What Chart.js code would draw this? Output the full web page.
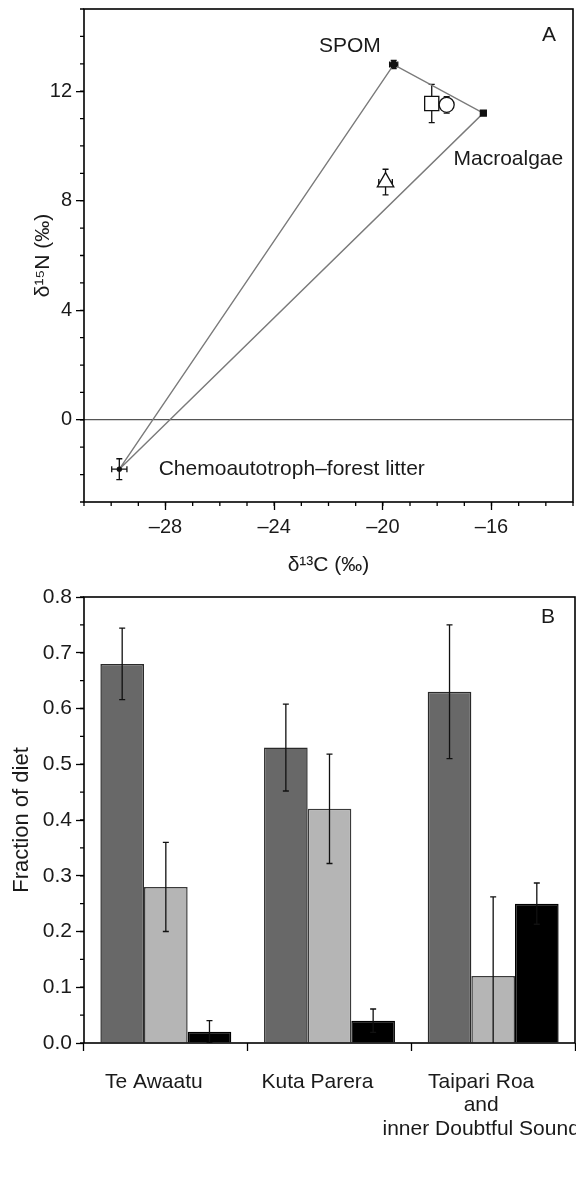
<!DOCTYPE html>
<html>
<head>
<meta charset="utf-8">
<script src="https://cdn.jsdelivr.net/npm/chart.js@4.4.1/dist/chart.umd.min.js"></script>
<style>
  html, body { margin: 0; padding: 0; background: #fff; overflow: hidden; }
  #wrapA { position: absolute; left: 0; top: 0; width: 576px; height: 580px; }
  #wrapB { position: absolute; left: 0; top: 580px; width: 576px; height: 601px; }
</style>
</head>
<body>
<div id="wrapA"><canvas id="chartA"></canvas></div>
<div id="wrapB"><canvas id="chartB"></canvas></div>
<script>
// ---- panel A : d13C / d15N of sources and consumers ----
var pointNames = ['SPOM', 'Macroalgae', 'Chemoautotroph', 'Consumer (square)', 'Consumer (circle)', 'Consumer (triangle)'];
var d13C = [-19.6, -16.3, -29.7, -18.2, -17.65, -19.9];
var d15N = [12.97, 11.2, -1.8, 11.55, 11.5, 8.68];
var sdC  = [0.15, 0.05, 0.28, 0.25, 0.2, 0.25];
var sdN  = [0.15, 0.05, 0.38, 0.7, 0.3, 0.47];
// mixing triangle: chemo -> SPOM -> macroalgae -> chemo
var polyIdx = [2, 0, 1, 2];
var aXTicks = [-28, -24, -20, -16];
var aYTicks = [0, 4, 8, 12];

var aLabels = ['SPOM', 'Macroalgae', 'Chemoautotroph\u2013forest litter'];
var aLabelC = [-22.35, -17.4, -28.25];
var aLabelN = [13.65, 9.5, -1.8];

// ---- panel B : fraction of diet ----
var sites = [['Te Awaatu'], ['Kuta Parera'], ['Taipari Roa', 'and', 'inner Doubtful Sound']];
var fracSPOM  = [0.68, 0.53, 0.63];
var errSPOM   = [0.064, 0.078, 0.12];
var fracMacro = [0.28, 0.42, 0.12];
var errMacro  = [0.08, 0.098, 0.142];
var fracChemo = [0.02, 0.04, 0.25];
var errChemo  = [0.02, 0.021, 0.037];
var bYTicks = [0, 0.1, 0.2, 0.3, 0.4, 0.5, 0.6, 0.7, 0.8];

Chart.defaults.font.family = '"Liberation Sans", Arial, Helvetica, sans-serif';
Chart.defaults.font.size = 20;
Chart.defaults.color = '#1a1a1a';

// fixed axis boxes so the plot areas land where the figure has them
function fixBox(w, h) {
  return function (s) {
    if (w) s.width = w;
    if (h) s.height = h;
    s.paddingLeft = 0; s.paddingRight = 0; s.paddingTop = 0; s.paddingBottom = 0;
  };
}

var frame = {
  id: 'frame',
  afterDraw: function (chart) {
    var a = chart.chartArea, ctx = chart.ctx;
    ctx.save();
    ctx.strokeStyle = '#000';
    ctx.lineWidth = 1.6;
    ctx.strokeRect(a.left, a.top, a.right - a.left, a.bottom - a.top);
    ctx.restore();
  }
};

var minorTicks = {
  id: 'minorTicks',
  afterDraw: function (chart, args, opts) {
    var ctx = chart.ctx, a = chart.chartArea;
    ctx.save();
    ctx.strokeStyle = '#000';
    ctx.lineWidth = 1.3;
    ctx.beginPath();
    ['x', 'y'].forEach(function (id) {
      var step = opts[id];
      if (!step) return;
      var s = chart.scales[id];
      for (var k = Math.ceil(s.min / step - 1e-9); k * step <= s.max + 1e-9; k++) {
        var p = s.getPixelForValue(k * step);
        if (id === 'x') { ctx.moveTo(p, a.bottom); ctx.lineTo(p, a.bottom + opts.len); }
        else { ctx.moveTo(a.left, p); ctx.lineTo(a.left - opts.len, p); }
      }
    });
    ctx.stroke();
    ctx.restore();
  }
};

var errBarsA = {
  id: 'errBarsA',
  beforeDatasetsDraw: function (chart) {
    var xs = chart.scales.x, ys = chart.scales.y, ctx = chart.ctx, cap = 3;
    ctx.save();
    ctx.strokeStyle = '#111';
    ctx.lineWidth = 1.3;
    ctx.beginPath();
    for (var i = 0; i < d13C.length; i++) {
      var x = xs.getPixelForValue(d13C[i]), y = ys.getPixelForValue(d15N[i]);
      var x0 = xs.getPixelForValue(d13C[i] - sdC[i]), x1 = xs.getPixelForValue(d13C[i] + sdC[i]);
      var y0 = ys.getPixelForValue(d15N[i] - sdN[i]), y1 = ys.getPixelForValue(d15N[i] + sdN[i]);
      ctx.moveTo(x0, y); ctx.lineTo(x1, y);
      ctx.moveTo(x0, y - cap); ctx.lineTo(x0, y + cap);
      ctx.moveTo(x1, y - cap); ctx.lineTo(x1, y + cap);
      ctx.moveTo(x, y0); ctx.lineTo(x, y1);
      ctx.moveTo(x - cap, y0); ctx.lineTo(x + cap, y0);
      ctx.moveTo(x - cap, y1); ctx.lineTo(x + cap, y1);
    }
    ctx.stroke();
    ctx.restore();
  }
};

var textA = {
  id: 'textA',
  afterDraw: function (chart) {
    var xs = chart.scales.x, ys = chart.scales.y, ctx = chart.ctx, a = chart.chartArea;
    ctx.save();
    ctx.fillStyle = '#1a1a1a';
    ctx.font = '21px "Liberation Sans", Arial, sans-serif';
    ctx.textBaseline = 'middle';
    ctx.textAlign = 'left';
    for (var i = 0; i < aLabels.length; i++) {
      ctx.fillText(aLabels[i], xs.getPixelForValue(aLabelC[i]), ys.getPixelForValue(aLabelN[i]));
    }
    ctx.textAlign = 'right';
    ctx.fillText('A', a.right - 17, a.top + 26);
    ctx.restore();
  }
};

var polyPts = polyIdx.map(function (i) { return {x: d13C[i], y: d15N[i]}; });
var scatPts = d13C.map(function (c, i) { return {x: c, y: d15N[i]}; });

new Chart(document.getElementById('chartA'), {
  type: 'scatter',
  data: {
    datasets: [{
      label: 'mixing polygon',
      data: polyPts,
      showLine: true,
      borderColor: '#7a7a7a',
      borderWidth: 1.4,
      pointRadius: 0,
      order: 2
    }, {
      label: 'isotopes',
      data: scatPts,
      pointStyle: ['circle', 'rect', 'circle', 'rect', 'circle', 'triangle'],
      pointRadius: [3.5, 4.2, 2, 10, 7.5, 9.5],
      pointBackgroundColor: ['#111', '#111', '#111', '#fff', '#fff', '#fff'],
      pointBorderColor: '#111',
      pointBorderWidth: 1.3,
      order: 1
    }]
  },
  options: {
    responsive: true,
    maintainAspectRatio: false,
    animation: false,
    layout: { autoPadding: false, padding: { top: 9, right: 3, left: 0, bottom: 0 } },
    plugins: {
      legend: { display: false },
      tooltip: { enabled: false },
      minorTicks: { x: 1, y: 1, len: 4 }
    },
    scales: {
      x: {
        type: 'linear',
        min: -31, max: -13,
        afterBuildTicks: function (s) { s.ticks = aXTicks.map(function (v) { return {value: v}; }); },
        afterFit: fixBox(0, 78),
        ticks: {
          padding: 5,
          callback: function (v) { return v < 0 ? '\u2013' + Math.abs(v) : '' + v; }
        },
        grid: { drawOnChartArea: false, tickLength: 8, tickColor: '#000', tickWidth: 1.3 },
        border: { display: false },
        title: { display: true, text: '\u03b4\u00b9\u00b3C (\u2030)', font: { size: 21 }, padding: { top: 0, bottom: 2 } }
      },
      y: {
        type: 'linear',
        min: -3, max: 15,
        afterBuildTicks: function (s) { s.ticks = aYTicks.map(function (v) { return {value: v}; }); },
        afterFit: fixBox(84, 0),
        ticks: { padding: 4 },
        grid: {
          drawOnChartArea: true,
          color: function (c) { return c.tick && c.tick.value === 0 ? '#555' : 'rgba(0,0,0,0)'; },
          lineWidth: 1.3,
          tickLength: 8, tickColor: '#000', tickWidth: 1.3
        },
        border: { display: false },
        title: { display: true, text: '\u03b4\u00b9\u2075N (\u2030)', font: { size: 21 }, padding: { top: 31, bottom: 0 } }
      }
    }
  },
  plugins: [errBarsA, minorTicks, frame, textA]
});

// ---- panel B ----
var errsB = [errSPOM, errMacro, errChemo];
var valsB = [fracSPOM, fracMacro, fracChemo];

var errBarsB = {
  id: 'errBarsB',
  afterDatasetsDraw: function (chart) {
    var ys = chart.scales.y, ctx = chart.ctx, a = chart.chartArea, cap = 3;
    ctx.save();
    ctx.beginPath();
    ctx.rect(a.left, a.top, a.right - a.left, a.bottom - a.top);
    ctx.clip();
    ctx.strokeStyle = '#111';
    ctx.lineWidth = 1.3;
    ctx.beginPath();
    for (var d = 0; d < valsB.length; d++) {
      var meta = chart.getDatasetMeta(d);
      for (var j = 0; j < valsB[d].length; j++) {
        var x = meta.data[j].x;
        var y0 = ys.getPixelForValue(valsB[d][j] - errsB[d][j]);
        var y1 = ys.getPixelForValue(valsB[d][j] + errsB[d][j]);
        ctx.moveTo(x, y0); ctx.lineTo(x, y1);
        ctx.moveTo(x - cap, y0); ctx.lineTo(x + cap, y0);
        ctx.moveTo(x - cap, y1); ctx.lineTo(x + cap, y1);
      }
    }
    ctx.stroke();
    ctx.restore();
  }
};

var textB = {
  id: 'textB',
  afterDraw: function (chart) {
    var ctx = chart.ctx, a = chart.chartArea;
    ctx.save();
    ctx.fillStyle = '#1a1a1a';
    ctx.font = '21px "Liberation Sans", Arial, sans-serif';
    ctx.textAlign = 'right';
    ctx.textBaseline = 'middle';
    ctx.fillText('B', a.right - 20, a.top + 20);
    ctx.restore();
  }
};

new Chart(document.getElementById('chartB'), {
  type: 'bar',
  data: {
    labels: sites,
    datasets: [{
      label: 'SPOM',
      data: fracSPOM,
      backgroundColor: '#686868',
      borderColor: '#2a2a2a',
      borderWidth: 1.5
    }, {
      label: 'Macroalgae',
      data: fracMacro,
      backgroundColor: '#b5b5b5',
      borderColor: '#3a3a3a',
      borderWidth: 1.5
    }, {
      label: 'Chemoautotroph-forest litter',
      data: fracChemo,
      backgroundColor: '#000',
      borderColor: '#000',
      borderWidth: 1.5
    }]
  },
  options: {
    responsive: true,
    maintainAspectRatio: false,
    animation: false,
    layout: { autoPadding: false, padding: { top: 17, right: 1, left: 0, bottom: 0 } },
    datasets: { bar: { categoryPercentage: 0.8, barPercentage: 1.0 } },
    plugins: {
      legend: { display: false },
      tooltip: { enabled: false },
      minorTicks: { y: 0.05, len: 4 }
    },
    scales: {
      x: {
        afterFit: fixBox(0, 138),
        ticks: { padding: 20, labelOffset: -12, maxRotation: 0, autoSkip: false, font: { size: 21, lineHeight: 1.1 } },
        grid: { drawOnChartArea: false, offset: true, tickLength: 8, tickColor: '#000', tickWidth: 1.3 },
        border: { display: false }
      },
      y: {
        min: 0, max: 0.8,
        afterBuildTicks: function (s) { s.ticks = bYTicks.map(function (v) { return {value: v}; }); },
        afterFit: fixBox(84, 0),
        ticks: { padding: 4, font: { size: 21 }, callback: function (v) { return Number(v).toFixed(1); } },
        grid: { drawOnChartArea: false, tickLength: 8, tickColor: '#000', tickWidth: 1.3 },
        border: { display: false },
        title: { display: true, text: 'Fraction of diet', font: { size: 22 }, padding: { top: 9, bottom: 0 } }
      }
    }
  },
  plugins: [errBarsB, minorTicks, frame, textB]
});
</script>
</body>
</html>
